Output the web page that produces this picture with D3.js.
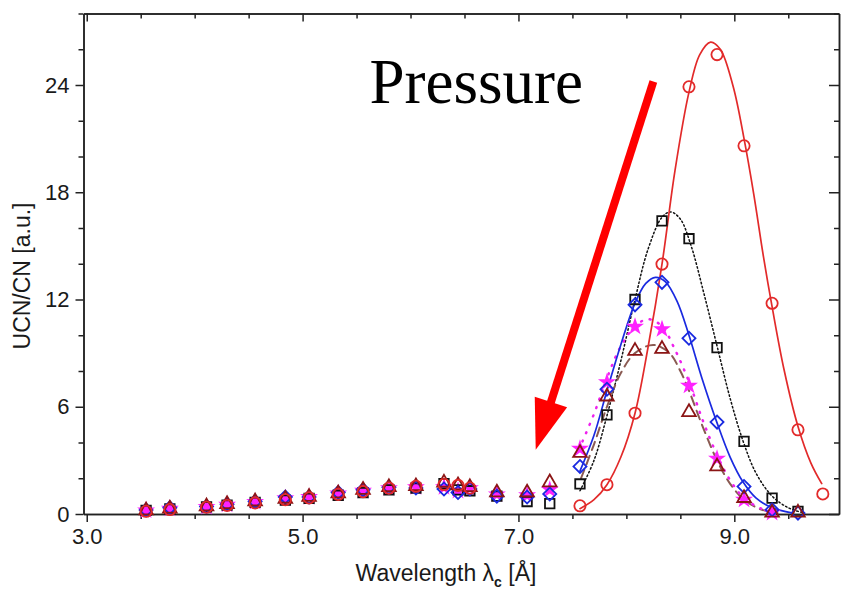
<!DOCTYPE html>
<html>
<head>
<meta charset="utf-8">
<script src="https://cdn.jsdelivr.net/npm/d3@7"></script>
<style>
  body { margin: 0; background: #fff; }
  .axis text { font-family: "Liberation Sans", Arial, sans-serif; font-size: 22px; fill: #1a1a1a; }
  .axis path, .axis line { stroke: #222; stroke-width: 1.5; }
</style>
</head>
<body>
<div id="chart"></div>
<script>
// wavelengths (Å) where every pressure was measured
var lowWavelengths = [3.55, 3.77, 4.11, 4.30, 4.56, 4.84, 5.06, 5.33, 5.56, 5.80, 6.05, 6.31, 6.44, 6.55, 6.80, 7.08, 7.29];
var peakWavelengths = [7.57, 7.82, 8.08, 8.33, 8.58, 8.84, 9.09, 9.35, 9.59, 9.82];

// UCN/CN per series (low part, then peak part)
var redLow = [0.15, 0.25, 0.38, 0.48, 0.62, 0.8, 0.9, 1.1, 1.25, 1.45, 1.55, 1.65, 1.6, 1.45];
var redPeak = [0.46, 1.64, 5.64, 13.98, 23.9, 25.7, 20.6, 11.79, 4.71, 1.12];
var blackLow = [0.2, 0.28, 0.4, 0.5, 0.65, 0.78, 0.88, 1.05, 1.2, 1.35, 1.45, 1.7, 1.35, 1.3, 1.0, 0.7, 0.58];
var blackPeak = [1.68, 5.55, 12.0, 16.4, 15.4, 9.31, 4.06, 0.89, 0.15];
var blueLow = [0.22, 0.35, 0.42, 0.55, 0.7, 0.95, 0.95, 1.2, 1.35, 1.5, 1.45, 1.4, 1.2, 1.4, 1.0, 0.95, 1.12];
var bluePeak = [2.66, 6.98, 11.7, 12.96, 9.83, 5.14, 1.54, 0.24, 0.05];
var magentaLow = [0.2, 0.3, 0.4, 0.52, 0.68, 0.88, 0.95, 1.15, 1.3, 1.45, 1.5, 1.5, 1.3, 1.45, 1.1, 1.05, 1.36];
var magentaPeak = [3.65, 7.37, 10.48, 10.34, 7.18, 3.09, 0.8, 0.07];
var brownLow = [0.2, 0.3, 0.42, 0.55, 0.7, 0.85, 0.95, 1.15, 1.35, 1.5, 1.55, 1.75, 1.6, 1.5, 1.2, 1.2, 1.77];
var brownPeak = [3.41, 6.57, 9.12, 9.23, 5.70, 2.66, 0.89, 0.07, 0.07];

// fitted curves as [wavelength, value]
var fitRed = [[7.57, 0.3], [7.7, 0.8], [7.82, 1.64], [7.95, 3.2], [8.08, 5.64], [8.2, 9.3], [8.33, 13.98], [8.45, 19.2],
  [8.58, 23.6], [8.68, 25.7], [8.78, 26.4], [8.87, 26.0], [8.99, 23.9], [9.09, 21.0], [9.18, 17.9], [9.27, 14.4],
  [9.35, 11.6], [9.46, 8.1], [9.59, 4.9], [9.71, 2.85], [9.81, 1.7]];
var fitBlack = [[7.57, 1.3], [7.7, 3.0], [7.82, 5.5], [7.95, 8.6], [8.08, 12.0], [8.2, 14.8], [8.33, 16.6], [8.41, 16.9],
  [8.5, 16.5], [8.6, 15.0], [8.72, 12.3], [8.84, 9.4], [8.96, 6.5], [9.08, 4.1], [9.2, 2.3], [9.35, 1.0], [9.5, 0.35], [9.62, 0.1]];
var fitBlue = [[7.57, 2.4], [7.7, 4.4], [7.82, 6.9], [7.95, 9.5], [8.08, 11.8], [8.18, 12.9], [8.27, 13.24], [8.36, 13.0],
  [8.47, 11.9], [8.58, 10.0], [8.7, 7.6], [8.84, 5.1], [8.96, 3.2], [9.08, 1.8], [9.2, 0.9], [9.35, 0.35], [9.52, 0.08]];
var fitMagenta = [[7.56, 3.6], [7.7, 5.6], [7.82, 7.6], [7.95, 9.4], [8.08, 10.5], [8.2, 10.9], [8.33, 10.5], [8.45, 9.2],
  [8.58, 7.4], [8.71, 5.2], [8.84, 3.3], [8.96, 1.9], [9.09, 0.9], [9.25, 0.3], [9.4, 0.05]];
var fitBrown = [[7.58, 2.0], [7.7, 3.9], [7.82, 6.0], [7.95, 7.9], [8.08, 9.0], [8.25, 9.46], [8.4, 9.0], [8.5, 8.0],
  [8.58, 6.9], [8.7, 5.0], [8.84, 3.0], [8.96, 1.7], [9.09, 0.8], [9.25, 0.25], [9.4, 0.05]];

var xMajor = [3.0, 5.0, 7.0, 9.0];
var yMajor = [0, 6, 12, 18, 24];

// annotation: arrow from -> to, text anchor (data units)
var arrowFrom = [8.25, 24.2];
var arrowTo = [7.16, 3.6];
var labelAt = [5.62, 23.0];

var width = 848, height = 597;
var margin = { top: 13.5, right: 9, bottom: 83, left: 83.5 };

var svg = d3.select("#chart").append("svg")
    .attr("width", width)
    .attr("height", height);

var x = d3.scaleLinear().domain([2.97, 9.97]).range([margin.left, width - margin.right]);
var y = d3.scaleLinear().domain([0, 28]).range([height - margin.bottom, margin.top]);

var xMinor = d3.range(3.5, 9.97, 0.5).filter(function (v) { return v % 2 !== 1; });
var yMinor = d3.range(2, 28.1, 2).filter(function (v) { return v % 6 !== 0; });

function fmtX(d) { return d3.format(".1f")(d); }

// bottom axis
svg.append("g").attr("class", "axis")
    .attr("transform", "translate(0," + y(0) + ")")
    .call(d3.axisBottom(x).tickValues(xMajor).tickSize(8).tickSizeOuter(0).tickPadding(6).tickFormat(fmtX));
svg.append("g").attr("class", "axis")
    .attr("transform", "translate(0," + y(0) + ")")
    .call(d3.axisBottom(x).tickValues(xMinor).tickSize(5).tickSizeOuter(0).tickFormat(""));
// top axis, ticks inward
svg.append("g").attr("class", "axis")
    .attr("transform", "translate(0," + y(28) + ")")
    .call(d3.axisBottom(x).tickValues(xMajor).tickSize(8).tickSizeOuter(0).tickFormat(""));
svg.append("g").attr("class", "axis")
    .attr("transform", "translate(0," + y(28) + ")")
    .call(d3.axisBottom(x).tickValues(xMinor).tickSize(5).tickSizeOuter(0).tickFormat(""));
// left axis
svg.append("g").attr("class", "axis")
    .attr("transform", "translate(" + x(2.97) + ",0)")
    .call(d3.axisLeft(y).tickValues(yMajor).tickSize(8).tickSizeOuter(0).tickPadding(6));
svg.append("g").attr("class", "axis")
    .attr("transform", "translate(" + x(2.97) + ",0)")
    .call(d3.axisLeft(y).tickValues(yMinor).tickSize(5).tickSizeOuter(0).tickFormat(""));
// right axis, ticks inward
svg.append("g").attr("class", "axis")
    .attr("transform", "translate(" + x(9.97) + ",0)")
    .call(d3.axisLeft(y).tickValues(yMajor).tickSize(10).tickSizeOuter(0).tickFormat(""));
svg.append("g").attr("class", "axis")
    .attr("transform", "translate(" + x(9.97) + ",0)")
    .call(d3.axisLeft(y).tickValues(yMinor).tickSize(5).tickSizeOuter(0).tickFormat(""));

// axis titles
svg.append("text")
    .attr("transform", "translate(30,276) rotate(-90)")
    .attr("text-anchor", "middle")
    .style("font-family", "Liberation Sans, Arial, sans-serif")
    .style("font-size", "23px")
    .style("fill", "#1a1a1a")
    .text("UCN/CN [a.u.]");

var xt = svg.append("text")
    .attr("x", 446)
    .attr("y", 581)
    .attr("text-anchor", "middle")
    .style("font-family", "Liberation Sans, Arial, sans-serif")
    .style("font-size", "23px")
    .style("fill", "#1a1a1a");
xt.append("tspan").text("Wavelength \u03bb");
xt.append("tspan").attr("dy", 6).style("font-size", "14px").style("font-weight", "bold").text("c");
xt.append("tspan").attr("dy", -6).text(" [\u00c5]");

// curves
var line = d3.line()
    .x(function (d) { return x(d[0]); })
    .y(function (d) { return y(d[1]); })
    .curve(d3.curveCatmullRom.alpha(0.5));

var plot = svg.append("g");

var fits = [
    { data: fitBlack, color: "#111", width: 1.5, dash: "1.5,2.5" },
    { data: fitBrown, color: "#8a5a52", width: 2, dash: "9,6" },
    { data: fitMagenta, color: "#ee22ee", width: 2.5, dash: "1,8" },
    { data: fitBlue, color: "#1a2ae0", width: 1.7, dash: null },
    { data: fitRed, color: "#e22a2a", width: 1.7, dash: null }
];
fits.forEach(function (f) {
    plot.append("path")
        .datum(f.data)
        .attr("d", line)
        .attr("fill", "none")
        .attr("stroke", f.color)
        .attr("stroke-width", f.width)
        .attr("stroke-linecap", "round")
        .attr("stroke-dasharray", f.dash);
});

// markers
function points(low, peak) {
    var out = [];
    low.forEach(function (v, i) { out.push([lowWavelengths[i], v]); });
    peak.forEach(function (v, i) { out.push([peakWavelengths[i], v]); });
    return out;
}

var series = [
    { pts: points(magentaLow, magentaPeak), symbol: d3.symbolStar, size: 48, rot: 0, stroke: "#ff22ff", fill: "#ff22ff" },
    { pts: points(blackLow, blackPeak), symbol: d3.symbolSquare, size: 90, rot: 0, stroke: "#111", fill: "none" },
    { pts: points(blueLow, bluePeak), symbol: d3.symbolSquare, size: 85, rot: 45, stroke: "#1a2ae0", fill: "none" },
    { pts: points(brownLow, brownPeak), symbol: d3.symbolTriangle, size: 80, rot: 0, stroke: "#8b1515", fill: "none" },
    { pts: points(redLow, redPeak), symbol: d3.symbolCircle, size: 100, rot: 0, stroke: "#e22a2a", fill: "none" }
];

series.forEach(function (s) {
    plot.append("g").selectAll("path")
        .data(s.pts)
        .enter().append("path")
        .attr("d", d3.symbol().type(s.symbol).size(s.size))
        .attr("transform", function (d) {
            return "translate(" + x(d[0]) + "," + y(d[1]) + ") rotate(" + s.rot + ")";
        })
        .attr("fill", s.fill)
        .attr("stroke", s.stroke)
        .attr("stroke-width", 1.8);
});

// annotation
var ax0 = x(arrowFrom[0]), ay0 = y(arrowFrom[1]);
var ax1 = x(arrowTo[0]), ay1 = y(arrowTo[1]);
var len = Math.hypot(ax1 - ax0, ay1 - ay0);
var ux = (ax1 - ax0) / len, uy = (ay1 - ay0) / len;
var headLen = 50, headHalf = 17;
var bx = ax1 - ux * headLen, by = ay1 - uy * headLen;

svg.append("line")
    .attr("x1", ax0).attr("y1", ay0)
    .attr("x2", bx + ux * 2).attr("y2", by + uy * 2)
    .attr("stroke", "#ff0000")
    .attr("stroke-width", 8);
svg.append("path")
    .attr("d", "M" + ax1 + "," + ay1 +
        "L" + (bx - uy * headHalf) + "," + (by + ux * headHalf) +
        "L" + (bx + uy * headHalf) + "," + (by - ux * headHalf) + "Z")
    .attr("fill", "#ff0000");

svg.append("text")
    .attr("x", x(labelAt[0]))
    .attr("y", y(labelAt[1]))
    .style("font-family", "Liberation Serif, Times New Roman, serif")
    .style("font-size", "63px")
    .style("fill", "#000")
    .text("Pressure");
</script>
</body>
</html>
